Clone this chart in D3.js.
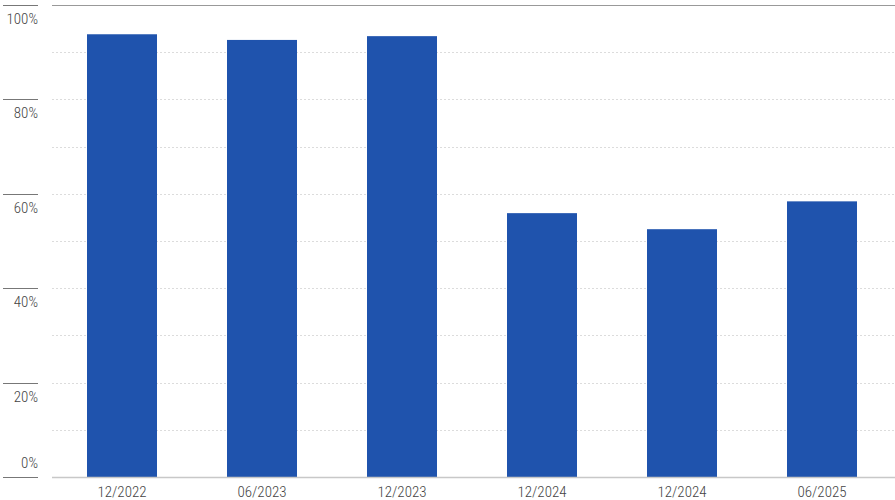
<!DOCTYPE html>
<html>
<head>
<meta charset="utf-8">
<script src="https://cdn.jsdelivr.net/npm/d3@7"></script>
<style>
	body { margin: 0; background: #fff; }
	text { font-family: "Liberation Sans Narrow", "Roboto Condensed", "Liberation Sans", Arial, sans-serif; font-stretch: condensed; font-weight: 300; }
</style>
</head>
<body>
<div id="chart"></div>
<script>
	var width = 895;
	var height = 500;

	// data
	var categories = ["12/2022", "06/2023", "12/2023", "12/2024", "12/2024", "06/2025"];
	var values = [93.8, 92.6, 93.4, 55.9, 52.5, 58.4];
	var yTicks = [0, 20, 40, 60, 80, 100];
	var gridTicks = [10, 20, 30, 40, 50, 60, 70, 80, 90];

	var plotLeft = 52, plotRight = 892, plotTop = 5, plotBottom = 477;

	const svg = d3.select("#chart").append("svg")
	.attr("width", width)
	.attr("height", height);

	// index domain because "12/2024" shows up twice
	const x = d3.scaleBand()
	.domain(d3.range(categories.length))
	.range([plotLeft, plotRight])
	.paddingInner(0.5)
	.paddingOuter(0.25);

	const y = d3.scaleLinear()
	.domain([0, 100])
	.range([plotBottom, plotTop]);

	// dotted grid
	svg.append("g")
	.attr("class", "grid")
	.selectAll("line")
	.data(gridTicks)
	.enter().append("line")
	.attr("x1", plotLeft)
	.attr("x2", width)
	.attr("y1", d => Math.round(y(d)) + 0.5)
	.attr("y2", d => Math.round(y(d)) + 0.5)
	.attr("stroke", "#dcdcdc")
	.attr("stroke-dasharray", "2,2");

	// top rule
	svg.append("line")
	.attr("x1", plotLeft)
	.attr("x2", width)
	.attr("y1", Math.round(y(100)) + 0.5)
	.attr("y2", Math.round(y(100)) + 0.5)
	.attr("stroke", "#999");

	// bars
	svg.append("g")
	.attr("class", "bars")
	.selectAll("rect")
	.data(values)
	.enter().append("rect")
	.attr("x", (d, i) => x(i))
	.attr("width", x.bandwidth())
	.attr("y", d => y(d))
	.attr("height", d => y(0) - y(d))
	.attr("fill", "#1f53ad");

	// baseline
	svg.append("line")
	.attr("x1", plotLeft)
	.attr("x2", width)
	.attr("y1", Math.round(y(0)) + 0.5)
	.attr("y2", Math.round(y(0)) + 0.5)
	.attr("stroke", "#c8c8c8")
	.attr("stroke-width", 1.5);

	// left tick marks + labels
	const yAxis = svg.append("g").attr("class", "y-axis");

	yAxis.selectAll("line")
	.data(yTicks)
	.enter().append("line")
	.attr("x1", 3)
	.attr("x2", 38)
	.attr("y1", d => Math.round(y(d)) + 0.5)
	.attr("y2", d => Math.round(y(d)) + 0.5)
	.attr("stroke", "#777");

	yAxis.selectAll("text")
	.data(yTicks)
	.enter().append("text")
	.attr("x", 38)
	.attr("y", d => d === 0 ? y(d) - 9 : y(d) + 19)
	.attr("text-anchor", "end")
	.style("fill", "#444")
	.style("font-size", "15px")
	.text(d => d + "%");

	// category labels
	svg.append("g")
	.attr("class", "x-axis")
	.selectAll("text")
	.data(categories)
	.enter().append("text")
	.attr("x", (d, i) => x(i) + x.bandwidth() / 2)
	.attr("y", 497)
	.attr("text-anchor", "middle")
	.style("fill", "#444")
	.style("font-size", "15px")
	.text(d => d);
</script>
</body>
</html>
